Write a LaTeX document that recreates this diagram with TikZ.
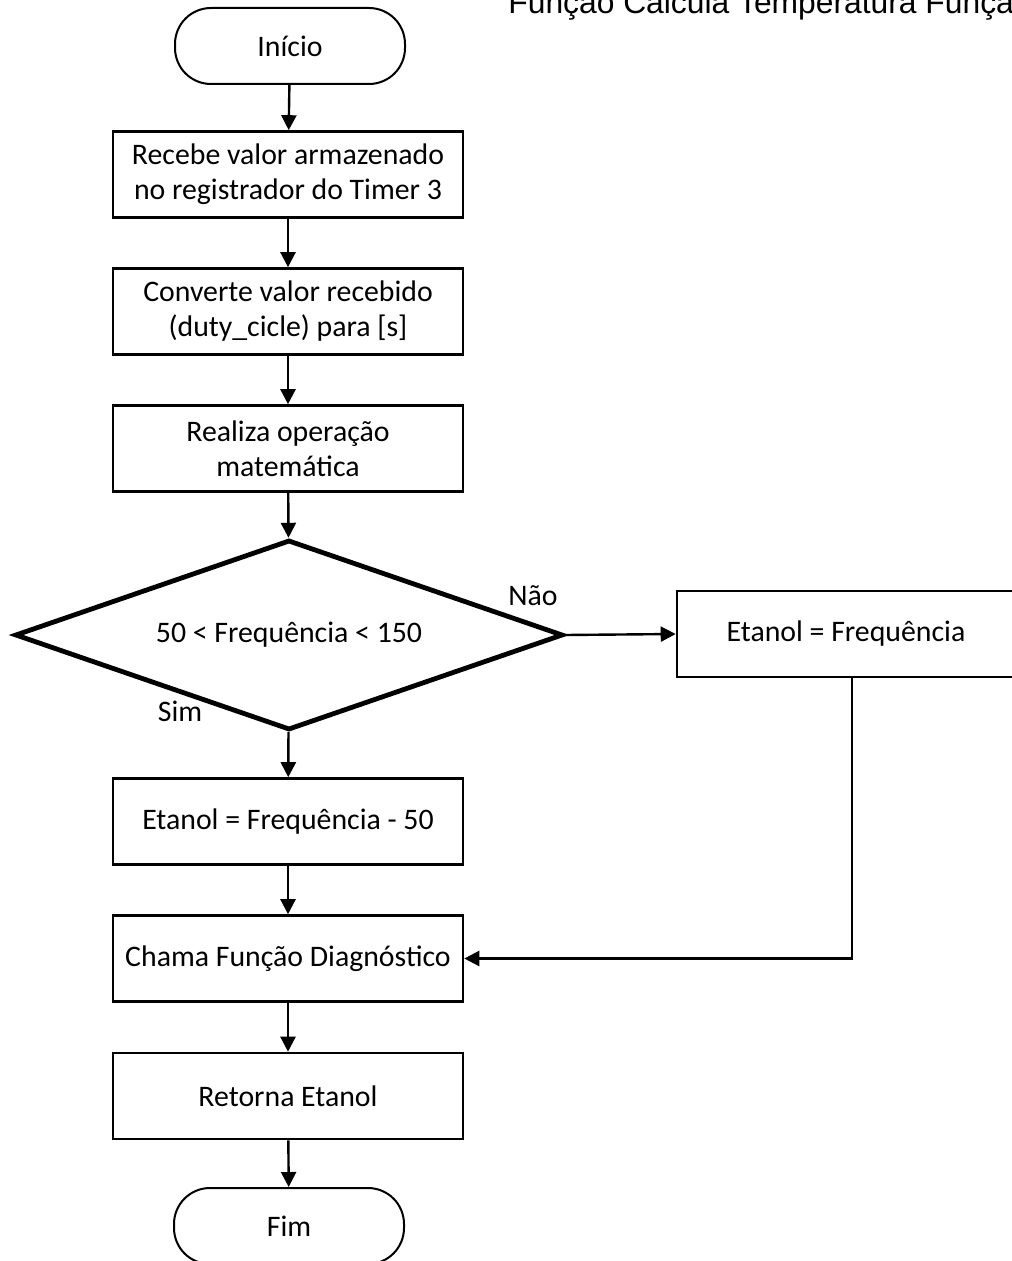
\documentclass[tikz,border=0pt]{standalone}
\usepackage{fontspec}
\setmainfont{Carlito}
\newfontfamily\titlefont{Liberation Sans}
\usetikzlibrary{shapes.geometric,arrows.meta}

\begin{document}
\begin{tikzpicture}[x=0.5pt,y=-0.5pt,font=\fontsize{14.9}{17.5}\selectfont,
  bloco/.style={draw,line width=1.3pt,minimum width=175pt,minimum height=43pt,align=center,inner sep=0pt},
  terminal/.style={draw,rectangle,rounded corners=18pt,line width=1pt,minimum width=115pt,minimum height=38pt},
  decisao/.style={draw,diamond,line width=2.4pt,aspect=2.9,minimum width=274pt,minimum height=95pt,inner sep=0pt},
  seta/.style={line width=1.2pt,-{Triangle[length=7.5pt,width=7.5pt]}}]

\useasboundingbox (0,0) rectangle (1011,1261);

\node[font=\titlefont\fontsize{15.9}{18}\selectfont,anchor=base west,inner sep=0pt] (titulo) at (508,14) {Função Calcula Temperatura Função};

\node[terminal] (inicio) at (290,46) {Início};
\node[bloco] (recebe) at (288,174.5) {Recebe valor armazenado\\no registrador do Timer 3};
\node[bloco] (converte) at (288,311.5) {Converte valor recebido\\(duty\_cicle) para [s]};
\node[bloco] (realiza) at (288,448.5) {Realiza operação\\matemática};
\node[decisao] (teste) at (289,635) {50 < Frequência < 150};
\node[bloco] (etanol50) at (288,821.5) {Etanol = Frequência - 50};
\node[bloco,minimum width=169pt] (etanolfreq) at (846,634) {Etanol = Frequência};
\node[bloco] (chama) at (288,958.5) {Chama Função Diagnóstico};
\node[bloco] (retorna) at (288,1096) {Retorna Etanol};
\node[terminal] (fim) at (289,1226) {Fim};

% saidas do teste
\node (nao) at (533,596) {Não};
\node (sim) at (180,711) {Sim};

\draw[seta] (inicio) -- (recebe);
\draw[seta] (recebe) -- (converte);
\draw[seta] (converte) -- (realiza);
\draw[seta] (realiza) -- (teste);
\draw[seta] (teste) -- (etanol50);
\draw[seta] (teste.east) -- (etanolfreq.west);
\draw[seta] ([xshift=3pt]etanolfreq.south) |- (chama.east);
\draw[seta] (etanol50) -- (chama);
\draw[seta] (chama) -- (retorna);
\draw[seta] (retorna) -- (fim);

\end{tikzpicture}
\end{document}
